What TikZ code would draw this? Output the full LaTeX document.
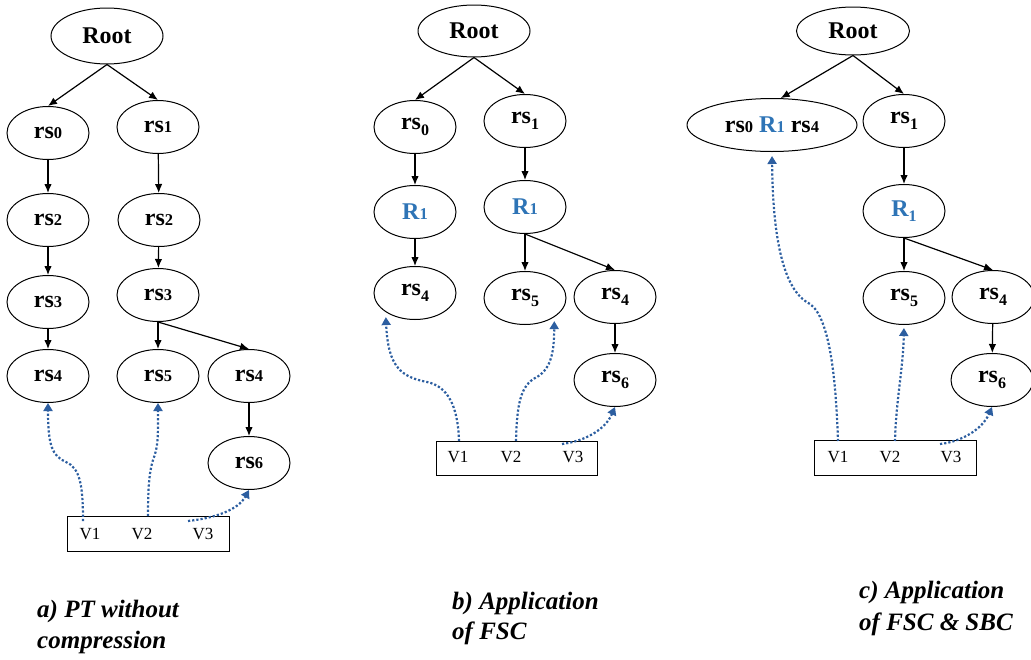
\documentclass[tikz,border=0pt]{standalone}
\usepackage{fontspec}
\setmainfont{Liberation Serif}
\usetikzlibrary{arrows.meta,shapes.geometric}
\definecolor{rblue}{RGB}{46,116,182}
\definecolor{dblue}{RGB}{44,94,160}
\newcommand\subA[1]{{\fontsize{16.5}{16.5}\selectfont #1}}
\newcommand\subB[1]{\raisebox{-5.5pt}{\fontsize{16}{16}\selectfont #1}}
\begin{document}
\begin{tikzpicture}[x=1pt,y=-1pt,
  nd/.style={ellipse,draw,line width=1pt,inner sep=0pt,minimum width=82pt,minimum height=53pt,font=\bfseries\fontsize{24}{24}\selectfont},
  rootnd/.style={nd,minimum width=112pt,minimum height=56pt},
  ed/.style={-{Latex[length=9pt,width=7.5pt]},line width=1.2pt},
  vp/.style={dblue,line width=2.2pt,dash pattern=on 2.2pt off 2pt,-{Triangle[length=8pt,width=9pt]}},
  vbox/.style={draw,line width=1pt,minimum width=162pt,minimum height=35pt,inner sep=0pt},
  vl/.style={font=\fontsize{17}{17}\selectfont,inner sep=0pt},
  captxt/.style={font=\bfseries\itshape\fontsize{25}{25}\selectfont,anchor=base west,inner sep=0pt}]
\useasboundingbox (0,0) rectangle (1031,659);

% ---------- panel a ----------
\node[rootnd] (ra) at (107,36) {Root};
\node[nd] (a0) at (48,133) {rs\subA0};
\node[nd] (a1) at (158,127) {rs\subA1};
\node[nd] (a2) at (48,220) {rs\subA2};
\node[nd] (a2r) at (159,220) {rs\subA2};
\node[nd] (a3) at (48,302) {rs\subA3};
\node[nd] (a3r) at (158,295) {rs\subA3};
\node[nd] (a4) at (48,376) {rs\subA4};
\node[nd] (a5) at (158,376) {rs\subA5};
\node[nd] (a4r) at (249,376) {rs\subA4};
\node[nd] (a6) at (249,463) {rs\subA6};
\draw[ed] (ra.south) -- (a0.north);
\draw[ed] (ra.south) -- (a1.north);
\draw[ed] (a0) -- (a2);
\draw[ed] (a2) -- (a3);
\draw[ed] (a3) -- (a4);
\draw[ed] (a1) -- (a2r);
\draw[ed] (a2r) -- (a3r);
\draw[ed] (a3r) -- (a5);
\draw[ed] (a3r.south) -- (a4r.north);
\draw[ed] (a4r) -- (a6);
\node[vbox] (boxa) at (148,533.5) {};
\node[vl] (av1) at (90,534) {V1};
\node[vl] (av2) at (142,534) {V2};
\node[vl] (av3) at (203,534) {V3};
\coordinate (a1s) at (83,521);
\coordinate (a2s) at (148,516);
\coordinate (a3s) at (188,521);
\draw[vp] (a1s) .. controls (83,485) and (80,468) .. (66,462) .. controls (52,456) and (48,445) .. (a4.south);
\draw[vp] (a2s) .. controls (148,482) and (150,470) .. (153,460) .. controls (158,447) and (158,440) .. (a5.south);
\draw[vp] (a3s) .. controls (215,518) and (238,510) .. (a6.south);
\node[captxt] (capa1) at (37,617) {a) PT without};
\node[captxt] (capa2) at (37,648) {compression};

% ---------- panel b ----------
\node[rootnd,minimum height=52pt] (rb) at (474,31) {Root};
\node[nd] (b0) at (415,127) {rs\subB0};
\node[nd] (b1) at (525,121) {rs\subB1};
\node[nd,text=rblue] (bR) at (415,212) {R\subA1};
\node[nd,text=rblue] (bRr) at (525,207) {R\subA1};
\node[nd] (b4) at (415,293) {rs\subB4};
\node[nd] (b5) at (525,298) {rs\subB5};
\node[nd] (b4r) at (615,297) {rs\subB4};
\node[nd] (b6) at (615,380) {rs\subB6};
\draw[ed] (rb.south) -- (b0.north);
\draw[ed] (rb.south) -- (b1.north);
\draw[ed] (b0) -- (bR);
\draw[ed] (bR) -- (b4);
\draw[ed] (b1) -- (bRr);
\draw[ed] (bRr) -- (b5);
\draw[ed] (bRr.south) -- (b4r.north);
\draw[ed] (b4r) -- (b6);
\node[vbox,minimum width=161pt,minimum height=34pt] (boxb) at (516.5,458) {};
\node[vl] (bv1) at (458,457) {V1};
\node[vl] (bv2) at (511,457) {V2};
\node[vl] (bv3) at (573,457) {V3};
\coordinate (b1s) at (459,441);
\coordinate (b2s) at (516,441);
\coordinate (b3s) at (562,444);
\draw[vp,shorten >=5pt] (b1s) .. controls (458,405) and (447,386) .. (427,382) .. controls (402,377) and (388,368) .. (b4.south west);
\draw[vp,shorten >=4pt] (b2s) .. controls (517,405) and (520,385) .. (537,377) .. controls (552,368) and (554,350) .. (b5.south east);
\draw[vp] (b3s) .. controls (585,441) and (605,430) .. (b6.south);
\node[captxt] (capb1) at (452,609) {b) Application};
\node[captxt] (capb2) at (452,639) {of FSC};

% ---------- panel c ----------
\node[rootnd,minimum width=113pt,minimum height=48pt] (rc) at (853,31) {Root};
\node[nd,minimum width=170pt] (cb) at (772,125) {rs\subA0 \textcolor{rblue}{R\subA1} rs\subA4};
\node[nd] (c1) at (904,121) {rs\subB1};
\node[nd,text=rblue] (cR) at (904,211) {R\subB1};
\node[nd] (c5) at (904,298) {rs\subB5};
\node[nd] (c4) at (993,297) {rs\subB4};
\node[nd] (c6) at (992,380) {rs\subB6};
\draw[ed] (rc.south) -- (cb.72);
\draw[ed] (rc.south) -- (c1.north);
\draw[ed] (c1) -- (cR);
\draw[ed] (cR) -- (c5);
\draw[ed] (cR.south) -- (c4.north);
\draw[ed] (c4) -- (c6);
\node[vbox] (boxc) at (895,458) {};
\node[vl] (cv1) at (838,457) {V1};
\node[vl] (cv2) at (890,457) {V2};
\node[vl] (cv3) at (951,457) {V3};
\coordinate (c1s) at (838,441);
\coordinate (c2s) at (895,441);
\coordinate (c3s) at (940,444);
\draw[vp,shorten >=4pt] (c1s) .. controls (836,380) and (830,318) .. (810,304) .. controls (790,294) and (773,260) .. (cb.south);
\draw[vp,shorten >=3pt] (c2s) .. controls (896,400) and (903,370) .. (c5.south);
\draw[vp] (c3s) .. controls (960,442) and (982,430) .. (c6.south);
\node[captxt] (capc1) at (859,598) {c) Application};
\node[captxt] (capc2) at (859,630) {of FSC \& SBC};
\end{tikzpicture}
\end{document}
